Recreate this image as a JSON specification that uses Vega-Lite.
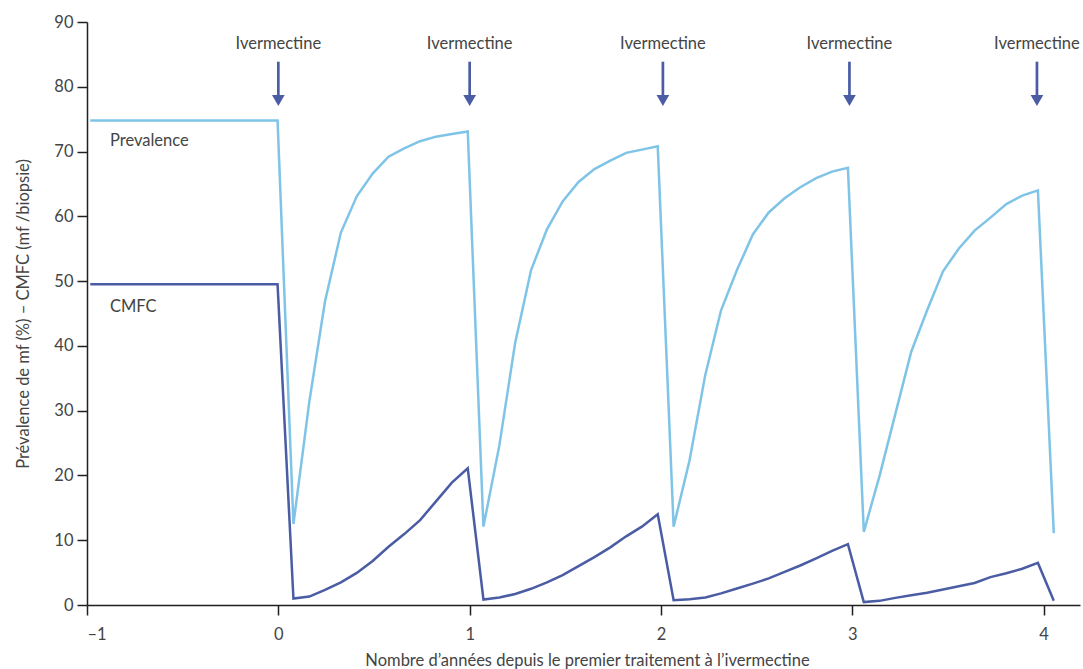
{
  "$schema": "https://vega.github.io/schema/vega-lite/v6.json",
  "width": 993,
  "height": 583,
  "autosize": {"type": "none"},
  "padding": {"left": 87, "top": 22, "right": 3, "bottom": 64},
  "background": "white",
  "config": {
    "view": {"stroke": null},
    "font": "Lato",
    "axis": {
      "grid": false,
      "domainColor": "#231f20",
      "domainWidth": 1.5,
      "tickColor": "#231f20",
      "tickWidth": 1.5,
      "tickSize": 10,
      "labelFont": "Lato",
      "labelFontSize": 16.5,
      "labelFontWeight": 400,
      "labelColor": "#444444",
      "titleFont": "Lato",
      "titleFontSize": 16.5,
      "titleFontWeight": 400,
      "titleColor": "#444444"
    }
  },
  "datasets": {
    "series": [
      {"t": -0.983, "s": "Prevalence", "v": 74.8},
      {"t": -0.004, "s": "Prevalence", "v": 74.8},
      {"t": 0.079, "s": "Prevalence", "v": 12.5},
      {"t": 0.162, "s": "Prevalence", "v": 31.4},
      {"t": 0.244, "s": "Prevalence", "v": 46.9},
      {"t": 0.327, "s": "Prevalence", "v": 57.5},
      {"t": 0.41, "s": "Prevalence", "v": 63.1},
      {"t": 0.493, "s": "Prevalence", "v": 66.6},
      {"t": 0.576, "s": "Prevalence", "v": 69.2},
      {"t": 0.658, "s": "Prevalence", "v": 70.5},
      {"t": 0.741, "s": "Prevalence", "v": 71.6},
      {"t": 0.824, "s": "Prevalence", "v": 72.3},
      {"t": 0.907, "s": "Prevalence", "v": 72.7},
      {"t": 0.99, "s": "Prevalence", "v": 73.1},
      {"t": 1.072, "s": "Prevalence", "v": 12.1},
      {"t": 1.155, "s": "Prevalence", "v": 24.6},
      {"t": 1.238, "s": "Prevalence", "v": 40.5},
      {"t": 1.321, "s": "Prevalence", "v": 51.7},
      {"t": 1.404, "s": "Prevalence", "v": 58.0},
      {"t": 1.486, "s": "Prevalence", "v": 62.3},
      {"t": 1.569, "s": "Prevalence", "v": 65.3},
      {"t": 1.652, "s": "Prevalence", "v": 67.3},
      {"t": 1.735, "s": "Prevalence", "v": 68.6},
      {"t": 1.818, "s": "Prevalence", "v": 69.8},
      {"t": 1.9, "s": "Prevalence", "v": 70.3},
      {"t": 1.983, "s": "Prevalence", "v": 70.8},
      {"t": 2.066, "s": "Prevalence", "v": 12.1},
      {"t": 2.149, "s": "Prevalence", "v": 22.3},
      {"t": 2.232, "s": "Prevalence", "v": 35.6},
      {"t": 2.314, "s": "Prevalence", "v": 45.5},
      {"t": 2.397, "s": "Prevalence", "v": 51.7},
      {"t": 2.48, "s": "Prevalence", "v": 57.2},
      {"t": 2.563, "s": "Prevalence", "v": 60.6},
      {"t": 2.646, "s": "Prevalence", "v": 62.8},
      {"t": 2.728, "s": "Prevalence", "v": 64.5},
      {"t": 2.811, "s": "Prevalence", "v": 65.9},
      {"t": 2.894, "s": "Prevalence", "v": 66.9},
      {"t": 2.977, "s": "Prevalence", "v": 67.5},
      {"t": 3.06, "s": "Prevalence", "v": 11.3},
      {"t": 3.142, "s": "Prevalence", "v": 19.9},
      {"t": 3.225, "s": "Prevalence", "v": 29.5},
      {"t": 3.308, "s": "Prevalence", "v": 39.1},
      {"t": 3.391, "s": "Prevalence", "v": 45.5},
      {"t": 3.474, "s": "Prevalence", "v": 51.5},
      {"t": 3.556, "s": "Prevalence", "v": 55.0},
      {"t": 3.639, "s": "Prevalence", "v": 57.8},
      {"t": 3.722, "s": "Prevalence", "v": 59.8},
      {"t": 3.805, "s": "Prevalence", "v": 61.9},
      {"t": 3.888, "s": "Prevalence", "v": 63.2},
      {"t": 3.97, "s": "Prevalence", "v": 64.0},
      {"t": 4.053, "s": "Prevalence", "v": 11.1},
      {"t": -0.983, "s": "CMFC", "v": 49.5},
      {"t": -0.004, "s": "CMFC", "v": 49.5},
      {"t": 0.079, "s": "CMFC", "v": 1.0},
      {"t": 0.162, "s": "CMFC", "v": 1.3},
      {"t": 0.244, "s": "CMFC", "v": 2.35},
      {"t": 0.327, "s": "CMFC", "v": 3.5},
      {"t": 0.41, "s": "CMFC", "v": 4.95},
      {"t": 0.493, "s": "CMFC", "v": 6.8},
      {"t": 0.576, "s": "CMFC", "v": 9.0},
      {"t": 0.658, "s": "CMFC", "v": 10.95},
      {"t": 0.741, "s": "CMFC", "v": 13.1},
      {"t": 0.824, "s": "CMFC", "v": 16.0},
      {"t": 0.907, "s": "CMFC", "v": 18.9},
      {"t": 0.99, "s": "CMFC", "v": 21.1},
      {"t": 1.072, "s": "CMFC", "v": 0.85},
      {"t": 1.155, "s": "CMFC", "v": 1.15},
      {"t": 1.238, "s": "CMFC", "v": 1.7},
      {"t": 1.321, "s": "CMFC", "v": 2.5},
      {"t": 1.404, "s": "CMFC", "v": 3.5},
      {"t": 1.486, "s": "CMFC", "v": 4.6},
      {"t": 1.569, "s": "CMFC", "v": 6.0},
      {"t": 1.652, "s": "CMFC", "v": 7.4},
      {"t": 1.735, "s": "CMFC", "v": 8.9},
      {"t": 1.818, "s": "CMFC", "v": 10.6},
      {"t": 1.9, "s": "CMFC", "v": 12.1},
      {"t": 1.983, "s": "CMFC", "v": 14.0},
      {"t": 2.066, "s": "CMFC", "v": 0.73},
      {"t": 2.149, "s": "CMFC", "v": 0.9},
      {"t": 2.232, "s": "CMFC", "v": 1.15},
      {"t": 2.314, "s": "CMFC", "v": 1.8},
      {"t": 2.397, "s": "CMFC", "v": 2.55},
      {"t": 2.48, "s": "CMFC", "v": 3.3},
      {"t": 2.563, "s": "CMFC", "v": 4.1},
      {"t": 2.646, "s": "CMFC", "v": 5.1},
      {"t": 2.728, "s": "CMFC", "v": 6.1},
      {"t": 2.811, "s": "CMFC", "v": 7.2},
      {"t": 2.894, "s": "CMFC", "v": 8.35},
      {"t": 2.977, "s": "CMFC", "v": 9.4},
      {"t": 3.06, "s": "CMFC", "v": 0.45},
      {"t": 3.142, "s": "CMFC", "v": 0.64},
      {"t": 3.225, "s": "CMFC", "v": 1.1},
      {"t": 3.308, "s": "CMFC", "v": 1.5},
      {"t": 3.391, "s": "CMFC", "v": 1.9},
      {"t": 3.474, "s": "CMFC", "v": 2.4},
      {"t": 3.556, "s": "CMFC", "v": 2.9},
      {"t": 3.639, "s": "CMFC", "v": 3.4},
      {"t": 3.722, "s": "CMFC", "v": 4.3},
      {"t": 3.805, "s": "CMFC", "v": 4.9},
      {"t": 3.888, "s": "CMFC", "v": 5.6},
      {"t": 3.97, "s": "CMFC", "v": 6.5},
      {"t": 4.053, "s": "CMFC", "v": 0.64}
    ],
    "doses": [
      {"t": 0, "label": "Ivermectine"},
      {"t": 1.0, "label": "Ivermectine"},
      {"t": 2.01, "label": "Ivermectine"},
      {"t": 2.985, "label": "Ivermectine"},
      {"t": 3.965, "label": "Ivermectine"}
    ]
  },
  "layer": [
    {
      "data": {"name": "series"},
      "mark": {"type": "line", "strokeWidth": 2.5, "clip": false},
      "encoding": {
        "x": {
          "field": "t",
          "type": "quantitative",
          "scale": {"domain": [-1, 4.19], "nice": false, "zero": false},
          "axis": {
            "values": [-1, 0, 1, 2, 3, 4],
            "format": "d",
            "labelPadding": 11,
            "labelExpr": "datum.value < 0 ? '–' + abs(datum.value) : '' + datum.value",
            "title": "Nombre d’années depuis le premier traitement à l’ivermectine",
            "titleX": 500,
            "titleY": 60,
            "titleAlign": "center",
            "titleBaseline": "alphabetic"
          }
        },
        "y": {
          "field": "v",
          "type": "quantitative",
          "scale": {"domain": [0, 90], "nice": false, "zero": true},
          "axis": {
            "values": [0, 10, 20, 30, 40, 50, 60, 70, 80, 90],
            "format": "d",
            "labelPadding": 4,
            "title": "Prévalence de mf (%) – CMFC (mf /biopsie)",
            "titleX": -59,
            "titleY": 291.5,
            "titleAngle": -90,
            "titleAlign": "center",
            "titleBaseline": "alphabetic"
          }
        },
        "color": {
          "field": "s",
          "type": "nominal",
          "scale": {"domain": ["Prevalence", "CMFC"], "range": ["#7fc4e7", "#4a5ca3"]},
          "legend": null
        },
        "detail": {"field": "s"}
      }
    },
    {
      "data": {"name": "doses"},
      "mark": {"type": "rule", "color": "#4a5ca3", "strokeWidth": 2.7},
      "encoding": {
        "x": {"field": "t", "type": "quantitative"},
        "y": {"datum": 83.87, "type": "quantitative"},
        "y2": {"datum": 78.2}
      }
    },
    {
      "data": {"name": "doses"},
      "mark": {"type": "point", "shape": "triangle-down", "filled": true, "opacity": 1, "size": 161, "color": "#4a5ca3", "strokeWidth": 0},
      "encoding": {
        "x": {"field": "t", "type": "quantitative"},
        "y": {"datum": 77.88, "type": "quantitative"}
      }
    },
    {
      "data": {"name": "doses"},
      "mark": {"type": "text", "font": "Lato", "fontSize": 16.5, "fontWeight": 400, "color": "#444444", "align": "center", "baseline": "alphabetic"},
      "encoding": {
        "x": {"field": "t", "type": "quantitative"},
        "y": {"datum": 85.83, "type": "quantitative"},
        "text": {"field": "label"}
      }
    },
    {
      "data": {"values": [{}]},
      "mark": {"type": "text", "text": "Prevalence", "font": "Lato", "fontSize": 16.5, "fontWeight": 400, "color": "#444444", "align": "left", "baseline": "alphabetic"},
      "encoding": {
        "x": {"datum": -0.88, "type": "quantitative"},
        "y": {"datum": 70.86, "type": "quantitative"}
      }
    },
    {
      "data": {"values": [{}]},
      "mark": {"type": "text", "text": "CMFC", "font": "Lato", "fontSize": 16.5, "fontWeight": 400, "color": "#444444", "align": "left", "baseline": "alphabetic"},
      "encoding": {
        "x": {"datum": -0.88, "type": "quantitative"},
        "y": {"datum": 45.28, "type": "quantitative"}
      }
    }
  ]
}
